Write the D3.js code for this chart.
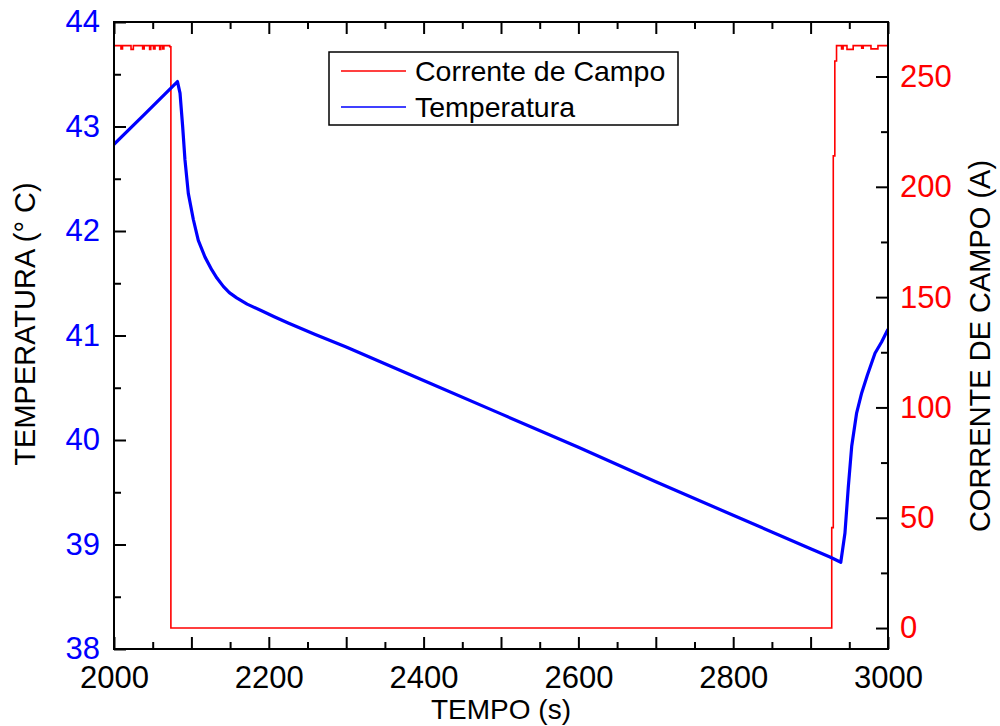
<!DOCTYPE html>
<html>
<head>
<meta charset="utf-8">
<script src="https://cdn.jsdelivr.net/npm/d3@7"></script>
<style>
  body { margin: 0; background: #fff; }
  svg { font-family: "Liberation Sans", Arial, sans-serif; }
</style>
</head>
<body>
<svg id="chart" width="1000" height="726"></svg>
<script>
// tempo (s) e temperatura (°C)
const timeT = [2000, 2040, 2082, 2085.3, 2088.7, 2091.7, 2096, 2102.5, 2108.9,
  2117.6, 2126.2, 2133, 2141.2, 2149, 2158.5, 2172, 2190, 2207, 2225, 2260, 2300, 2400, 2500,
  2600, 2700, 2800, 2900, 2925, 2939, 2944.4, 2948.7, 2953.1, 2959.5, 2966, 2973.3,
  2983.2, 2991.9, 3000];
const temp = [42.83, 43.12, 43.43, 43.32, 43.0, 42.68, 42.36, 42.11, 41.91,
  41.75, 41.63, 41.55, 41.47, 41.41, 41.36, 41.30, 41.24, 41.18, 41.12, 41.01, 40.89, 40.57, 40.25,
  39.93, 39.60, 39.28, 38.96, 38.88, 38.83, 39.11, 39.55, 39.94, 40.26, 40.45, 40.62,
  40.83, 40.94, 41.06];

// tempo (s) e corrente de campo (A), sinal em degraus
const timeC = [2000, 2009, 2011, 2022, 2025, 2037, 2039, 2046, 2047.5, 2051, 2053, 2059,
  2060.5, 2063, 2064.5, 2072, 2073.5, 2927.3, 2929.3, 2931.3, 2933.5, 2940, 2942, 2947,
  2955, 2966, 2968, 2978, 2987, 3000];
const current = [264, 262.5, 264, 262.3, 264, 262.5, 264, 262.3, 264, 262.5, 264, 262.3, 264, 262.5,
  264, 263.5, 0, 45.5, 214, 257, 264, 262.5, 264, 262.3, 264, 262.8, 264, 262.5, 264, 264];

const xMajor = d3.range(2000, 3001, 100);
const xMinor = d3.range(2050, 3000, 100);
const tTicks = d3.range(38, 44.01, 1);
const tMinor = d3.range(38.5, 44, 1);
const cTicks = d3.range(0, 251, 50);
const cMinor = d3.range(25, 275, 50);

const L = 114, R = 888, T = 22, B = 649;
const svg = d3.select('#chart');

const x  = d3.scaleLinear().domain([2000, 3000]).range([L, R]);
const yT = d3.scaleLinear().domain([38, 44]).range([B, T]);
const yC = d3.scaleLinear().domain([-9.5, 274.7]).range([B, T]);

svg.append('clipPath').attr('id', 'clip')
  .append('rect').attr('x', L).attr('y', T).attr('width', R - L).attr('height', B - T);

// curvas
const lineC = d3.line()
  .x((d, i) => x(timeC[i])).y(d => yC(d))
  .curve(d3.curveStepAfter);
svg.append('path').datum(current)
  .attr('clip-path', 'url(#clip)')
  .attr('d', lineC).attr('fill', 'none')
  .attr('stroke', '#ff0000').attr('stroke-width', 1.6);

const lineT = d3.line()
  .x((d, i) => x(timeT[i])).y(d => yT(d));
svg.append('path').datum(temp)
  .attr('clip-path', 'url(#clip)')
  .attr('d', lineT).attr('fill', 'none')
  .attr('stroke', '#0000ff').attr('stroke-width', 3.2)
  .attr('stroke-linejoin', 'round');

// eixos
function styleAxis(g, color) {
  g.select('.domain').remove();
  g.selectAll('.tick line').attr('stroke', '#000').attr('stroke-width', 2);
  g.selectAll('.tick text').attr('fill', color).attr('font-size', 31);
}

const fmtX = d => (d % 200 === 0 ? d : '');
svg.append('g').attr('transform', `translate(0,${B})`)
  .call(d3.axisBottom(x).tickValues(xMajor).tickFormat(fmtX).tickSize(-12).tickPadding(17))
  .call(g => styleAxis(g, '#000'));
svg.append('g').attr('transform', `translate(0,${B})`)
  .call(d3.axisBottom(x).tickValues(xMinor).tickFormat('').tickSize(-7))
  .call(g => styleAxis(g, '#000'));
svg.append('g').attr('transform', `translate(0,${T})`)
  .call(d3.axisTop(x).tickValues(xMajor).tickFormat('').tickSize(-12))
  .call(g => styleAxis(g, '#000'));
svg.append('g').attr('transform', `translate(0,${T})`)
  .call(d3.axisTop(x).tickValues(xMinor).tickFormat('').tickSize(-7))
  .call(g => styleAxis(g, '#000'));

svg.append('g').attr('transform', `translate(${L},0)`)
  .call(d3.axisLeft(yT).tickValues(tTicks).tickFormat(d3.format('d')).tickSize(-12).tickPadding(14))
  .call(g => styleAxis(g, '#0000ff'));
svg.append('g').attr('transform', `translate(${L},0)`)
  .call(d3.axisLeft(yT).tickValues(tMinor).tickFormat('').tickSize(-7))
  .call(g => styleAxis(g, '#0000ff'));

svg.append('g').attr('transform', `translate(${R},0)`)
  .call(d3.axisRight(yC).tickValues(cTicks).tickFormat(d3.format('d')).tickSize(-12).tickPadding(12))
  .call(g => styleAxis(g, '#ff0000'));
svg.append('g').attr('transform', `translate(${R},0)`)
  .call(d3.axisRight(yC).tickValues(cMinor).tickFormat('').tickSize(-7))
  .call(g => styleAxis(g, '#ff0000'));

// moldura
svg.append('rect').attr('x', L).attr('y', T).attr('width', R - L).attr('height', B - T)
  .attr('fill', 'none').attr('stroke', '#000').attr('stroke-width', 2);

// títulos
svg.append('text').attr('x', (L + R) / 2).attr('y', 719)
  .attr('text-anchor', 'middle').attr('font-size', 28).text('TEMPO (s)');
svg.append('text').attr('transform', 'translate(35,324) rotate(-90)')
  .attr('text-anchor', 'middle').attr('font-size', 29).text('TEMPERATURA (° C)');
svg.append('text').attr('transform', 'translate(990,346) rotate(-90)')
  .attr('text-anchor', 'middle').attr('font-size', 29).text('CORRENTE DE CAMPO (A)');

// legenda
const leg = svg.append('g');
leg.append('rect').attr('x', 329).attr('y', 52).attr('width', 349).attr('height', 73)
  .attr('fill', '#fff').attr('stroke', '#000').attr('stroke-width', 1.5);
const items = [['Corrente de Campo', '#ff0000', 71], ['Temperatura', '#0000ff', 107]];
items.forEach(([label, color, yy]) => {
  leg.append('line').attr('x1', 341).attr('x2', 406).attr('y1', yy).attr('y2', yy)
    .attr('stroke', color).attr('stroke-width', 1.6);
  leg.append('text').attr('x', 415).attr('y', yy + 9.5)
    .attr('font-size', 28.5).text(label);
});
</script>
</body>
</html>
